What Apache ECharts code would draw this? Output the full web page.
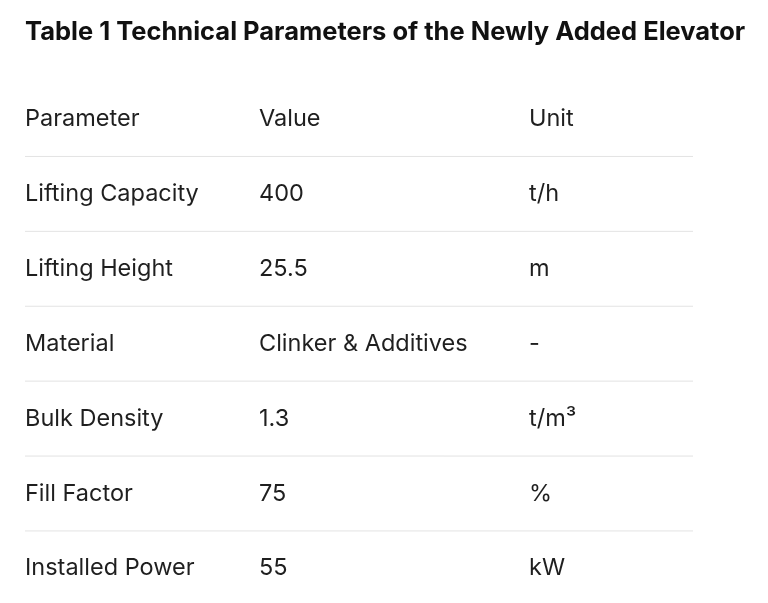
<!DOCTYPE html>
<html>
<head>
<meta charset="utf-8">
<script src="https://cdn.jsdelivr.net/npm/echarts@6/dist/echarts.min.js"></script>
<style>html,body{margin:0;padding:0;background:#fff;}#main{width:768px;height:603px;}</style>
</head>
<body>
<div id="main"></div>
<script>
var myChart = echarts.init(document.getElementById('main'));

var title = 'Table 1 Technical Parameters of the Newly Added Elevator';
var headers = ['Parameter', 'Value', 'Unit'];
var parameters = ['Lifting Capacity', 'Lifting Height', 'Material', 'Bulk Density', 'Fill Factor', 'Installed Power'];
var values = ['400', '25.5', 'Clinker & Additives', '1.3', '75', '55'];
var units = ['t/h', 'm', '-', 't/m³', '%', 'kW'];

var colX = [25, 259, 529];
var rowY0 = 119, rowH = 74.9;
var font = 'Inter, "Noto Sans", sans-serif';

function cell(x, y, s) {
  return {
    type: 'text', left: x, top: y - 12,
    style: { text: s, fill: '#1f1f1f', font: '23.5px ' + font }
  };
}

var els = [{
  type: 'text', left: 25, top: 19,
  style: { text: title, fill: '#111', font: 'bold 25.5px ' + font }
}];
headers.forEach(function (h, i) { els.push(cell(colX[i], rowY0, h)); });
parameters.forEach(function (p, r) {
  var y = rowY0 + rowH * (r + 1);
  els.push({
    type: 'line',
    shape: { x1: 25, y1: y - rowH / 2, x2: 693, y2: y - rowH / 2 },
    style: { stroke: '#e3e3e3', lineWidth: 1 }
  });
  els.push(cell(colX[0], y, p));
  els.push(cell(colX[1], y, values[r]));
  els.push(cell(colX[2], y, units[r]));
});

var option = { backgroundColor: '#fff', graphic: { elements: els } };
myChart.setOption(option);
window.onresize = function () { myChart.resize(); };
</script>
</body>
</html>
